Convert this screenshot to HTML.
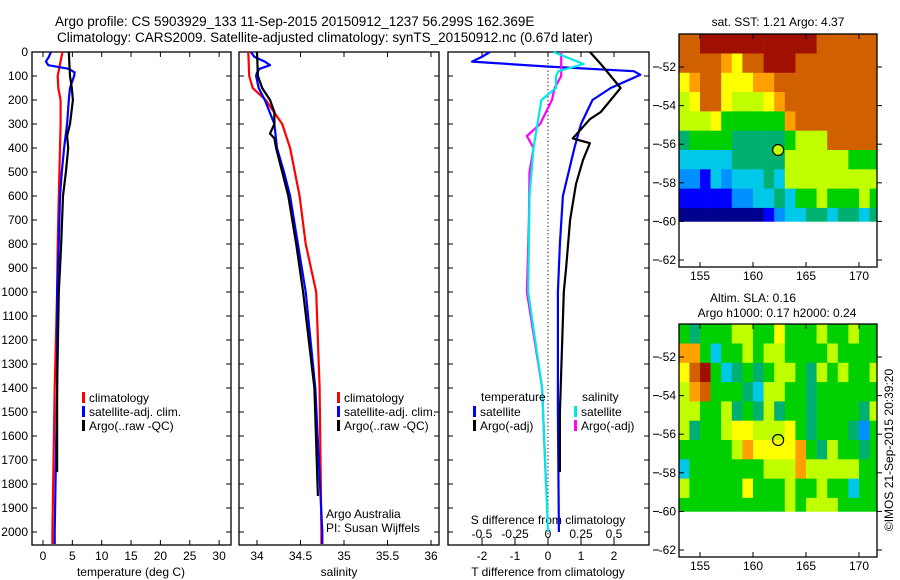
<!DOCTYPE html>
<html><head><meta charset="utf-8"><style>
html,body{margin:0;padding:0;background:#fff;}
svg{display:block;font-family:"Liberation Sans",sans-serif;}
text{fill:#000;}
</style></head><body>
<svg id="s" width="900" height="580" viewBox="0 0 900 580">
<text x="55" y="26" font-size="13.5">Argo profile: CS 5903929_133 11-Sep-2015 20150912_1237 56.299S 162.369E</text>
<text x="57" y="42" font-size="13.5">Climatology: CARS2009. Satellite-adjusted climatology: synTS_20150912.nc (0.67d later)</text>
<g id="g"></g>
</svg>
<script>
// ---- profile data ----
const depthClim = [0,100,150,200,300,400,600,800,1000,1400,2000,2050];
const tClim = [3.3,2.5,2.6,3.0,3.0,2.9,2.7,2.5,2.4,2.0,1.6,1.6];
const depthSat = [0,20,40,55,70,85,100,150,200,300,400,500,600,800,1000,1400,2000,2050];
const tSat = [1.35,1.0,0.5,0.9,4.4,5.4,5.3,4.6,4.4,4.1,3.6,3.2,2.9,2.7,2.4,2.4,2.0,2.0];
const depthArgo = [0,100,150,200,300,350,400,500,600,800,1000,1400,1750];
const tArgo = [4.4,4.6,4.9,5.1,4.6,4.1,4.3,3.9,3.4,3.1,2.7,2.4,2.4];
const sClim = [33.9,33.91,33.95,34.1,34.29,34.38,34.49,34.56,34.68,34.72,34.74,34.74];
const sSat = [33.93,33.97,34.09,34.15,34.03,34.0,33.99,34.02,34.09,34.2,34.23,34.31,34.38,34.47,34.56,34.67,34.75,34.75];
const depthArgoS = [0,100,150,200,250,300,340,360,400,500,600,800,1000,1400,1850];
const sArgo = [34.0,34.01,34.06,34.15,34.2,34.2,34.15,34.2,34.22,34.29,34.36,34.45,34.53,34.66,34.7];
const depthDiff = [0,20,40,60,80,95,150,200,300,400,600,800,1000,1500,2000];
const dtSat = [-1.76,-2.0,-2.3,-0.1,2.6,2.8,1.9,1.35,1.0,0.8,0.45,0.36,0.3,0.3,0.33];
const depthDtArgo = [0,50,100,150,200,250,280,360,380,450,550,700,900,1000,1500,1750];
const dtArgo = [1.27,1.6,1.9,2.2,1.9,1.6,1.27,0.75,1.27,1.06,0.85,0.67,0.55,0.48,0.36,0.36];
const depthDsSat = [0,50,80,100,150,200,300,400,600,1000,1400,2000];
const dsSat = [0.04,0.27,0.08,0.06,0.06,-0.05,-0.08,-0.11,-0.14,-0.15,-0.045,0.0];
const depthDsArgo = [0,100,150,200,300,350,400,500,700,1000,1400,1800];
const dsArgo = [0.1,0.1,0.05,0.03,-0.06,-0.16,-0.11,-0.14,-0.145,-0.16,-0.045,-0.015];
const depthTicks = [0,100,200,300,400,500,600,700,800,900,1000,1100,1200,1300,1400,1500,1600,1700,1800,1900,2000];
const tTicks = [0,5,10,15,20,25,30];
const sTicks = [34,34.5,35,35.5,36];
const dtTicks = [-2,-1,0,1,2];
const dsTicks = [-0.5,-0.25,0,0.25,0.5];
// ---- map data (1-degree cells, colour index 0..10), rows from 50.3S southward ----
const sstGrid = [
[9,9,10,10,10,10,10,10,10,10,10,10,10,9,9,9,9,9,9],
[9,9,9,9,8,7,9,9,10,10,10,9,9,9,9,9,9,9,9],
[7,8,9,9,7,7,7,8,8,9,9,9,9,9,9,9,9,9,9],
[6,7,9,9,7,6,6,6,7,8,9,9,9,9,9,9,9,9,9],
[6,6,6,7,5,5,5,5,5,5,8,9,9,9,9,9,9,9,9],
[4,5,5,5,5,4,4,4,4,4,5,6,6,6,9,9,9,9,9],
[3,3,3,3,3,4,4,4,4,4,6,6,6,6,6,6,5,5,5],
[2,2,1,3,2,3,3,3,4,3,6,6,6,6,6,6,6,6,6],
[1,1,1,1,1,2,2,3,3,4,3,5,5,6,5,5,5,6,5],
[0,0,0,0,0,0,0,0,1,2,3,3,4,4,3,4,4,3,4]];
const slaGrid = [
[5,4,5,5,5,6,6,5,5,7,5,5,5,6,5,5,6,5,5],
[8,8,5,3,5,5,6,5,6,6,5,5,5,5,6,5,5,5,5],
[7,9,10,5,3,4,5,4,5,6,6,5,4,6,5,6,5,5,6],
[6,8,9,5,5,5,4,3,6,6,5,5,4,5,5,5,5,5,5],
[6,6,5,5,6,4,5,4,6,4,5,5,4,5,5,5,5,4,6],
[6,4,5,5,6,7,7,6,6,6,7,5,4,5,5,5,4,2,5],
[5,5,5,5,5,6,8,7,7,7,7,8,5,4,6,5,5,4,5],
[3,5,5,5,5,5,5,5,6,6,6,8,6,6,6,6,6,5,5],
[6,5,5,5,5,5,7,5,5,5,6,5,5,6,5,5,3,5,5],
[5,5,5,5,5,5,5,5,5,5,6,5,6,6,6,5,5,5,5]];
const lonTicks = [155,160,165,170];
const latTicks = [52,54,56,58,60,62];
const argoPos = [162.37,56.3];
const palette = ['#00008f','#0000ff','#0090ff','#00c8e8','#00b070','#00d000','#c0ff00','#ffff00','#ffa000','#d06000','#a01000'];

const NS='http://www.w3.org/2000/svg';
const G=document.getElementById('g');
function mk(tag,attrs,parent){const e=document.createElementNS(NS,tag);for(const k in attrs)e.setAttribute(k,attrs[k]);(parent||G).appendChild(e);return e;}
const yD = d => 52 + d*0.24;
const xT = v => 43 + v*5.87;
const xS = v => 257 + (v-34)*87;
const xDT = v => 548 + v*33;
const xDS = v => 548 + v*132;

function frame(x0,x1,name){
  const r=mk('rect',{x:x0,y:52,width:x1-x0,height:493,fill:'none',stroke:'#000','stroke-width':1.3});
  
  
  depthTicks.forEach(d=>{
    mk('line',{x1:x0,x2:x0+5,y1:yD(d),y2:yD(d),stroke:'#000'});
    mk('line',{x1:x1-5,x2:x1,y1:yD(d),y2:yD(d),stroke:'#000'});
  });
}
function line(xs,ds,fx,color,name,w){
  const pts=xs.map((v,i)=>fx(v).toFixed(1)+','+yD(ds[i]).toFixed(1)).join(' ');
  const p=mk('polyline',{points:pts,fill:'none',stroke:color,'stroke-width':w||2.2,'stroke-linejoin':'round'});
  
  
}
function txt(x,y,s,opts,name){
  const t=mk('text',Object.assign({x:x,y:y,'font-size':12},opts||{}));
  t.textContent=s;
  
  
  return t;
}
// depth labels
depthTicks.forEach(d=>{txt(28,yD(d)+4,String(d),{'text-anchor':'end'},'depth-tick-label');});

// panel 1 temperature
frame(32,231,'temperature-panel');
tTicks.forEach(v=>{mk('line',{x1:xT(v),x2:xT(v),y1:545,y2:540,stroke:'#000'});mk('line',{x1:xT(v),x2:xT(v),y1:52,y2:57,stroke:'#000'});txt(xT(v),560,String(v),{'text-anchor':'middle'},'temperature-tick-label');});
txt(131,576,'temperature (deg C)',{'text-anchor':'middle'},'temperature-axis-title');
line(tClim,depthClim,xT,'#ff0000','temperature-climatology-line');
line(tSat,depthSat,xT,'#0000ff','temperature-satellite-line');
line(tArgo,depthArgo,xT,'#000000','temperature-argo-line');

// panel 2 salinity
frame(239,439,'salinity-panel');
sTicks.forEach(v=>{mk('line',{x1:xS(v),x2:xS(v),y1:545,y2:540,stroke:'#000'});mk('line',{x1:xS(v),x2:xS(v),y1:52,y2:57,stroke:'#000'});txt(xS(v),560,String(v),{'text-anchor':'middle'},'salinity-tick-label');});
txt(339,576,'salinity',{'text-anchor':'middle'},'salinity-axis-title');
line(sClim,depthClim,xS,'#ff0000','salinity-climatology-line');
line(sSat,depthSat,xS,'#0000ff','salinity-satellite-line');
line(sArgo,depthArgoS,xS,'#000000','salinity-argo-line');
txt(326,518,'Argo Australia',{},'institution-label');
txt(326,532,'PI: Susan Wijffels',{},'pi-label');

// legends
function legend(x,y,items,name){
  items.forEach((it,i)=>{
    mk('rect',{x:x,y:y+i*14-10,width:3,height:11,fill:it[1]});
    txt(x+7,y+i*14,it[0],{},name);
  });
}
legend(82,402,[['climatology','#ff0000'],['satellite-adj. clim.','#0000ff'],['Argo(..raw -QC)','#000']],'temperature-legend-entry');
legend(337,402,[['climatology','#ff0000'],['satellite-adj. clim.','#0000ff'],['Argo(..raw -QC)','#000']],'salinity-legend-entry');

// panel 3 differences
frame(448,649,'difference-panel');
mk('line',{x1:548,x2:548,y1:52,y2:545,stroke:'#000','stroke-dasharray':'1.2,2.5'});
dtTicks.forEach(v=>{mk('line',{x1:xDT(v),x2:xDT(v),y1:545,y2:540,stroke:'#000'});mk('line',{x1:xDT(v),x2:xDT(v),y1:52,y2:57,stroke:'#000'});txt(xDT(v),560,String(v),{'text-anchor':'middle'},'t-diff-tick-label');});
dsTicks.forEach(v=>{mk('line',{x1:xDS(v),x2:xDS(v),y1:537,y2:542,stroke:'#000'});txt(xDS(v),538,String(v),{'text-anchor':'middle'},'s-diff-tick-label');});
txt(548,524,'S difference from climatology',{'text-anchor':'middle'},'s-diff-axis-title');
txt(548,576,'T difference from climatology',{'text-anchor':'middle'},'t-diff-axis-title');
line(dtSat,depthDiff,xDT,'#0000ff','t-diff-satellite-line');
line(dtArgo,depthDtArgo,xDT,'#000000','t-diff-argo-line');
line(dsArgo,depthDsArgo,xDS,'#ff00ff','s-diff-argo-line');
line(dsSat,depthDsSat,xDS,'#00e8e8','s-diff-satellite-line');
txt(481,401,'temperature',{},'diff-legend-header-temperature');
txt(582,401,'salinity',{},'diff-legend-header-salinity');
legend(473,416,[['satellite','#0000ff'],['Argo(-adj)','#000']],'diff-legend-entry');
legend(574,416,[['satellite','#00e8e8'],['Argo(-adj)','#ff00ff']],'diff-legend-entry');

// maps
const mx0=679,mx1=877;
const xL = lon => 700 + (lon-155)*10.6;
function map(y0,grid,name,filled){
  const yl = lat => y0+33 + (lat-52)*19.3;
  const top=50.3;
  const gg=mk('g',{});
  
  
  grid.forEach((row,r)=>row.forEach((c,k)=>{
    const la0=top+r, la1=Math.min(top+r+1,60);
    const x=xL(153+k), w=Math.min(xL(154+k),mx1)-x;
    const cell=mk('rect',{x:x.toFixed(1),y:yl(la0).toFixed(1),width:(w+0.3).toFixed(1),height:(yl(la1)-yl(la0)+0.3).toFixed(1),fill:palette[c]},gg);
    
  }));
  const yb=y0+233;
  mk('rect',{x:mx0,y:y0,width:mx1-mx0,height:233,fill:'none',stroke:'#000','stroke-width':1.3});
  lonTicks.forEach(v=>{mk('line',{x1:xL(v),x2:xL(v),y1:yb,y2:yb-5,stroke:'#000'});mk('line',{x1:xL(v),x2:xL(v),y1:y0,y2:y0+5,stroke:'#000'});txt(xL(v),yb+13,String(v),{'text-anchor':'middle'},'map-lon-tick-label');});
  latTicks.forEach(v=>{mk('line',{x1:653,x2:659,y1:yl(v),y2:yl(v),stroke:'#000'});mk('line',{x1:mx0,x2:mx0+5,y1:yl(v),y2:yl(v),stroke:'#000'});mk('line',{x1:mx1,x2:mx1+5,y1:yl(v),y2:yl(v),stroke:'#000'});txt(676,yl(v)+4,'-'+v,{'text-anchor':'end'},'map-lat-tick-label');});
  const c=mk('circle',{cx:xL(argoPos[0]),cy:yl(argoPos[1]),r:5.5,fill:filled?'#c0ff00':'none',stroke:'#000','stroke-width':1.2});
  
  
}
map(34,sstGrid,'sst-map',true);
map(324,slaGrid,'sla-map',false);
txt(778,26,'sat. SST: 1.21 Argo: 4.37',{'text-anchor':'middle'},'sst-map-title');
txt(753,302,'Altim. SLA: 0.16',{'text-anchor':'middle'},'sla-map-title');
txt(777,317,'Argo h1000: 0.17 h2000: 0.24',{'text-anchor':'middle'},'sla-map-subtitle');
txt(0,0,'©IMOS 21-Sep-2015 20:39:20',{'text-anchor':'middle',transform:'translate(893,450) rotate(-90)'},'imos-credit');
</script>
</body></html>
